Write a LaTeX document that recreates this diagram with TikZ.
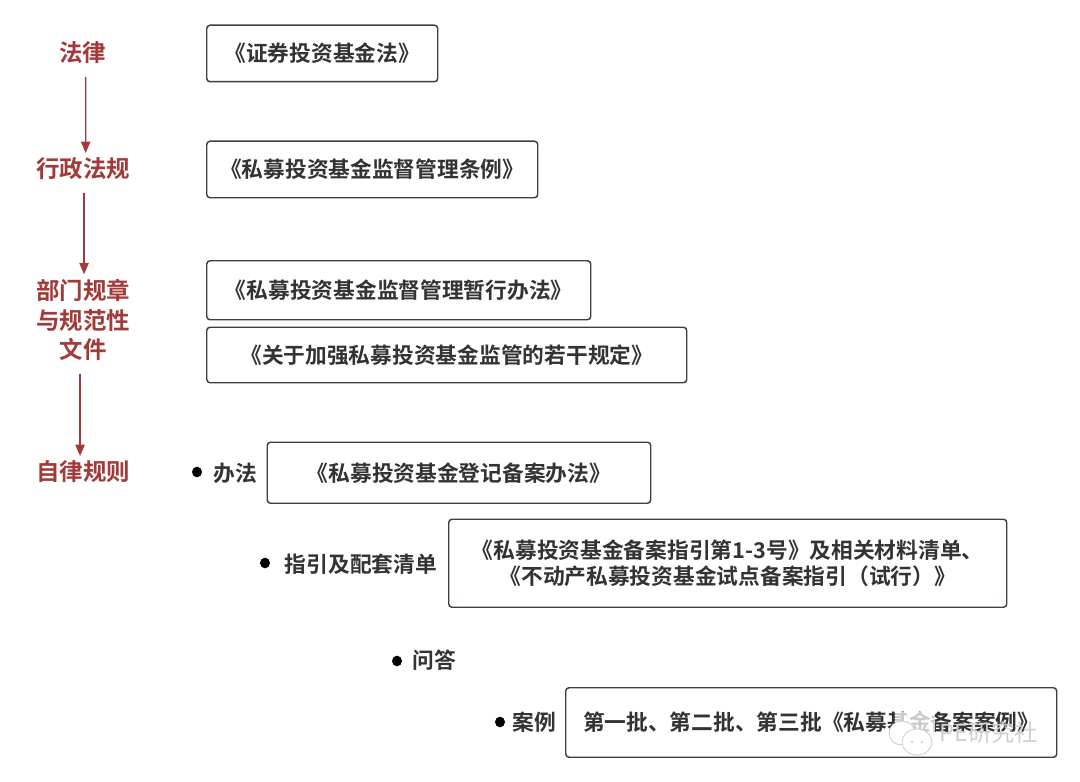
\documentclass[tikz,border=0pt]{standalone}
\usepackage{fontspec}
\setmainfont{Noto Sans CJK SC}[BoldFont={Noto Sans CJK SC Bold}]
\usetikzlibrary{arrows.meta,positioning}
\definecolor{lawred}{HTML}{A33A3A}
\definecolor{inkgray}{HTML}{333333}
\definecolor{edgegray}{HTML}{3A3F4A}
\tikzset{
  x=0.75pt,y=-0.75pt,
  levelbox/.style={draw=edgegray,line width=1.1pt,rounded corners=2.5pt,anchor=north west,inner sep=0pt,align=center,text=inkgray,font=\fontsize{16.3}{19.5}\selectfont\bfseries},
  levellabel/.style={text=lawred,align=center,inner sep=0pt,font=\fontsize{17.6}{22.2}\selectfont\bfseries},
  sublabel/.style={text=inkgray,inner sep=0pt,font=\fontsize{16.3}{19.5}\selectfont\bfseries},
  subdot/.style={fill=black,draw=none,ellipse,minimum width=7.5pt,minimum height=8pt,inner sep=0pt},
  flow/.style={draw=lawred,line width=0.95pt,-{Triangle[length=8.5pt,width=7pt,fill=lawred]},shorten >=0pt},
}
\usetikzlibrary{shapes.geometric}
\newcommand{\bx}[6]{\node[levelbox,minimum width=#4*0.75pt,minimum height=#5*0.75pt] (#1) at (#2,#3) {#6};}
\begin{document}
\begin{tikzpicture}
\useasboundingbox (0,0) rectangle (1080,781);
\fill[white] (0,0) rectangle (1080,781);

\node[levellabel] (l1) at (82.5,53) {法律};
\node[levellabel] (l2) at (83,169) {行政法规};
\node[levellabel] (l3) at (83,320) {部门规章\\与规范性\\文件};
\node[levellabel] (l4) at (83,472) {自律规则};

\draw[flow] ([xshift=2.4pt,yshift=-9.5pt]l1.south) -- ([xshift=2.0pt,yshift=3.5pt]l2.north);
\draw[flow] ([xshift=0.8pt,yshift=-9.5pt]l2.south) -- ([xshift=0.8pt,yshift=3.5pt]l3.north);
\draw[flow] ([xshift=-2.2pt,yshift=-9.5pt]l3.south) -- ([xshift=-2.2pt,yshift=3.5pt]l4.north);

\bx{b1}{206}{24.5}{231}{56.5}{《证券投资基金法》}
\bx{b2}{206}{140.5}{331}{56.5}{《私募投资基金监督管理条例》}
\bx{b3}{206}{260}{384}{59}{《私募投资基金监督管理暂行办法》}
\bx{b4}{206}{326.5}{480}{55.5}{《关于加强私募投资基金监管的若干规定》}
\bx{b5}{266.5}{441.5}{383.5}{61}{《私募投资基金登记备案办法》}
\bx{b6}{448}{518.5}{558}{88}{《私募投资基金备案指引第1-3号》及相关材料清单、\\《不动产私募投资基金试点备案指引（试行）》}
\bx{b7}{565}{687}{491}{69.5}{第一批、第二批、第三批《私募基金备案案例》}

\node[subdot] (d1) at (197,472) {};
\node[sublabel] (s1) at (235,473) {办法};
\node[subdot] (d2) at (265,563) {};
\node[sublabel] (s2) at (361,564) {指引及配套清单};
\node[subdot] (d3) at (397,661) {};
\node[sublabel] (s3) at (434,660) {问答};
\node[subdot] (d4) at (500,722) {};
\node[sublabel] (s4) at (534,722) {案例};

% watermark
\fill[white,opacity=.75] (895,712) rectangle (935,752);
\draw[gray!45,fill=white,line width=.5pt] (902,733) ellipse (13 and 12);
\draw[gray!45,fill=white,line width=.5pt] (917,742) ellipse (15 and 13);
\fill[gray!45] (912,742) circle (1.2) (922,742) circle (1.2);
\node[text=gray!38,inner sep=0pt,font=\fontsize{17.5}{20}\selectfont] (wm) at (989,733) {PE研究社};
\end{tikzpicture}
\end{document}
